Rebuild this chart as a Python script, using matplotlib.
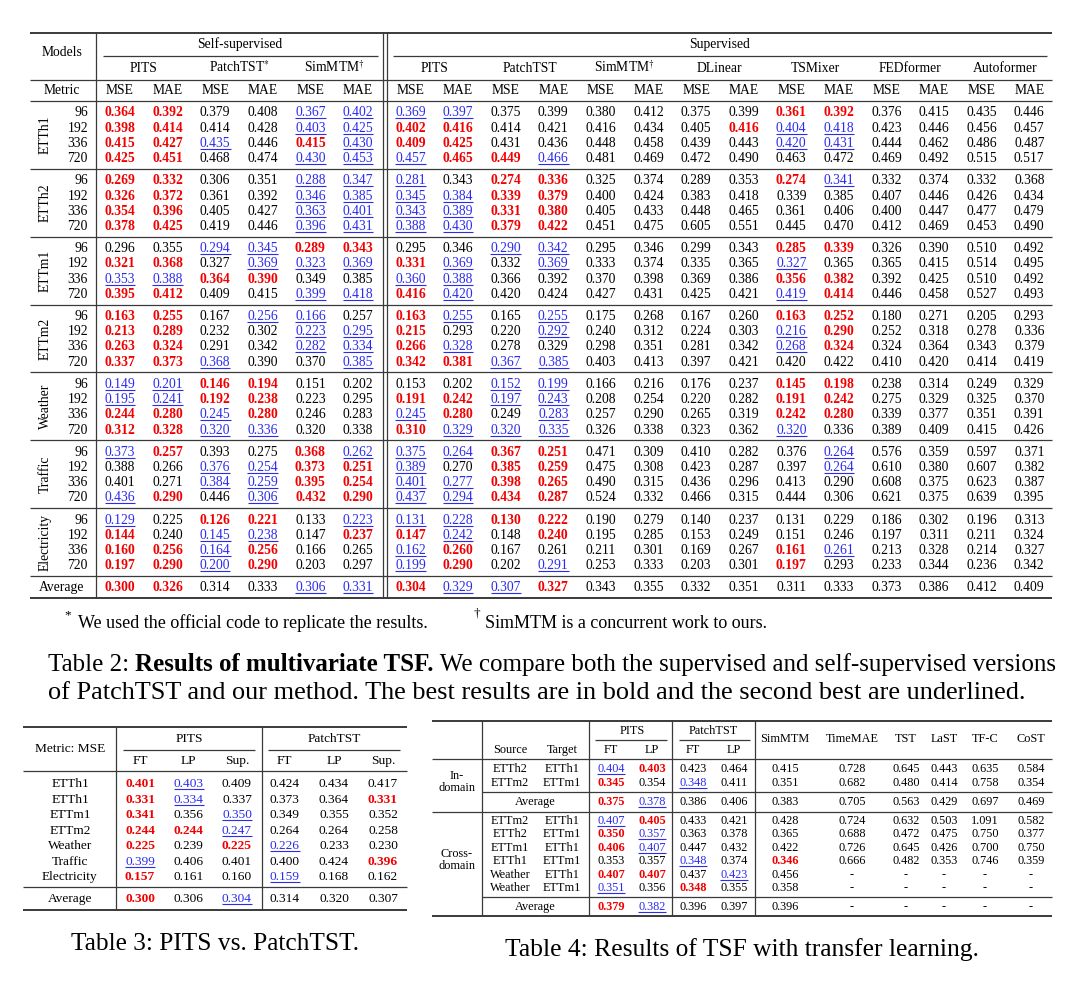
import numpy as np
import matplotlib
matplotlib.use("Agg")
import matplotlib.pyplot as plt

plt.rcParams['font.family'] = ['Liberation Serif', 'DejaVu Serif']
plt.rcParams['mathtext.fontset'] = 'stix'

RED = '#f20000'
BLUE = '#2b2bf0'
LINE = '#3a3a3a'

# ---------------- Table 2: multivariate TSF ----------------
datasets = ['ETTh1', 'ETTh2', 'ETTm1', 'ETTm2', 'Weather', 'Traffic', 'Electricity']
horizons = ['96', '192', '336', '720']
ss_models = ['PITS', 'PatchTST$^{*}$', 'SimMTM$^{\\dagger}$']
sup_models = ['PITS', 'PatchTST', 'SimMTM$^{\\dagger}$', 'DLinear', 'TSMixer', 'FEDformer', 'Autoformer']

# columns: self-sup (PITS, PatchTST, SimMTM) then supervised models, MSE/MAE each
etth1 = [[0.364, 0.392, 0.379, 0.408, 0.367, 0.402, 0.369, 0.397, 0.375, 0.399, 0.380, 0.412, 0.375, 0.399, 0.361, 0.392, 0.376, 0.415, 0.435, 0.446],
         [0.398, 0.414, 0.414, 0.428, 0.403, 0.425, 0.402, 0.416, 0.414, 0.421, 0.416, 0.434, 0.405, 0.416, 0.404, 0.418, 0.423, 0.446, 0.456, 0.457],
         [0.415, 0.427, 0.435, 0.446, 0.415, 0.430, 0.409, 0.425, 0.431, 0.436, 0.448, 0.458, 0.439, 0.443, 0.420, 0.431, 0.444, 0.462, 0.486, 0.487],
         [0.425, 0.451, 0.468, 0.474, 0.430, 0.453, 0.457, 0.465, 0.449, 0.466, 0.481, 0.469, 0.472, 0.490, 0.463, 0.472, 0.469, 0.492, 0.515, 0.517]]
etth1_marks = ["bb--uuuu------bb----", "bb--uubb-----buu----", "bbu-bubb------uu----", "bb--uuubbu----------"]

etth2 = [[0.269, 0.332, 0.306, 0.351, 0.288, 0.347, 0.281, 0.343, 0.274, 0.336, 0.325, 0.374, 0.289, 0.353, 0.274, 0.341, 0.332, 0.374, 0.332, 0.368],
         [0.326, 0.372, 0.361, 0.392, 0.346, 0.385, 0.345, 0.384, 0.339, 0.379, 0.400, 0.424, 0.383, 0.418, 0.339, 0.385, 0.407, 0.446, 0.426, 0.434],
         [0.354, 0.396, 0.405, 0.427, 0.363, 0.401, 0.343, 0.389, 0.331, 0.380, 0.405, 0.433, 0.448, 0.465, 0.361, 0.406, 0.400, 0.447, 0.477, 0.479],
         [0.378, 0.425, 0.419, 0.446, 0.396, 0.431, 0.388, 0.430, 0.379, 0.422, 0.451, 0.475, 0.605, 0.551, 0.445, 0.470, 0.412, 0.469, 0.453, 0.490]]
etth2_marks = ["bb--uuu-bb----bu----", "bb--uuuubb----------", "bb--uuuubb----------", "bb--uuuubb----------"]

ettm1 = [[0.296, 0.355, 0.294, 0.345, 0.289, 0.343, 0.295, 0.346, 0.290, 0.342, 0.295, 0.346, 0.299, 0.343, 0.285, 0.339, 0.326, 0.390, 0.510, 0.492],
         [0.321, 0.368, 0.327, 0.369, 0.323, 0.369, 0.331, 0.369, 0.332, 0.369, 0.333, 0.374, 0.335, 0.365, 0.327, 0.365, 0.365, 0.415, 0.514, 0.495],
         [0.353, 0.388, 0.364, 0.390, 0.349, 0.385, 0.360, 0.388, 0.366, 0.392, 0.370, 0.398, 0.369, 0.386, 0.356, 0.382, 0.392, 0.425, 0.510, 0.492],
         [0.395, 0.412, 0.409, 0.415, 0.399, 0.418, 0.416, 0.420, 0.420, 0.424, 0.427, 0.431, 0.425, 0.421, 0.419, 0.414, 0.446, 0.458, 0.527, 0.493]]
ettm1_marks = ["--uubb--uu----bb----", "bb-uuubu-u----u-----", "uubb--uu------bb----", "bb--uubu------ub----"]

ettm2 = [[0.163, 0.255, 0.167, 0.256, 0.166, 0.257, 0.163, 0.255, 0.165, 0.255, 0.175, 0.268, 0.167, 0.260, 0.163, 0.252, 0.180, 0.271, 0.205, 0.293],
         [0.213, 0.289, 0.232, 0.302, 0.223, 0.295, 0.215, 0.293, 0.220, 0.292, 0.240, 0.312, 0.224, 0.303, 0.216, 0.290, 0.252, 0.318, 0.278, 0.336],
         [0.263, 0.324, 0.291, 0.342, 0.282, 0.334, 0.266, 0.328, 0.278, 0.329, 0.298, 0.351, 0.281, 0.342, 0.268, 0.324, 0.324, 0.364, 0.343, 0.379],
         [0.337, 0.373, 0.368, 0.390, 0.370, 0.385, 0.342, 0.381, 0.367, 0.385, 0.403, 0.413, 0.397, 0.421, 0.420, 0.422, 0.410, 0.420, 0.414, 0.419]]
ettm2_marks = ["bb-uu-bu-u----bb----", "bb--uub--u----ub----", "bb--uubu------ub----", "bbu--ubbuu----------"]

weather = [[0.149, 0.201, 0.146, 0.194, 0.151, 0.202, 0.153, 0.202, 0.152, 0.199, 0.166, 0.216, 0.176, 0.237, 0.145, 0.198, 0.238, 0.314, 0.249, 0.329],
           [0.195, 0.241, 0.192, 0.238, 0.223, 0.295, 0.191, 0.242, 0.197, 0.243, 0.208, 0.254, 0.220, 0.282, 0.191, 0.242, 0.275, 0.329, 0.325, 0.370],
           [0.244, 0.280, 0.245, 0.280, 0.246, 0.283, 0.245, 0.280, 0.249, 0.283, 0.257, 0.290, 0.265, 0.319, 0.242, 0.280, 0.339, 0.377, 0.351, 0.391],
           [0.312, 0.328, 0.320, 0.336, 0.320, 0.338, 0.310, 0.329, 0.320, 0.335, 0.326, 0.338, 0.323, 0.362, 0.320, 0.336, 0.389, 0.409, 0.415, 0.426]]
weather_marks = ["uubb----uu----bb----", "uubb--bbuu----bb----", "bbub--ub-u----bb----", "bbuu--buuu----u-----"]

traffic = [[0.373, 0.257, 0.393, 0.275, 0.368, 0.262, 0.375, 0.264, 0.367, 0.251, 0.471, 0.309, 0.410, 0.282, 0.376, 0.264, 0.576, 0.359, 0.597, 0.371],
           [0.388, 0.266, 0.376, 0.254, 0.373, 0.251, 0.389, 0.270, 0.385, 0.259, 0.475, 0.308, 0.423, 0.287, 0.397, 0.264, 0.610, 0.380, 0.607, 0.382],
           [0.401, 0.271, 0.384, 0.259, 0.395, 0.254, 0.401, 0.277, 0.398, 0.265, 0.490, 0.315, 0.436, 0.296, 0.413, 0.290, 0.608, 0.375, 0.623, 0.387],
           [0.436, 0.290, 0.446, 0.306, 0.432, 0.290, 0.437, 0.294, 0.434, 0.287, 0.524, 0.332, 0.466, 0.315, 0.444, 0.306, 0.621, 0.375, 0.639, 0.395]]
traffic_marks = ["ub--buuubb-----u----", "--uubbu-bb-----u----", "--uubbuubb----------", "ub-ubbuubb----------"]

electricity = [[0.129, 0.225, 0.126, 0.221, 0.133, 0.223, 0.131, 0.228, 0.130, 0.222, 0.190, 0.279, 0.140, 0.237, 0.131, 0.229, 0.186, 0.302, 0.196, 0.313],
               [0.144, 0.240, 0.145, 0.238, 0.147, 0.237, 0.147, 0.242, 0.148, 0.240, 0.195, 0.285, 0.153, 0.249, 0.151, 0.246, 0.197, 0.311, 0.211, 0.324],
               [0.160, 0.256, 0.164, 0.256, 0.166, 0.265, 0.162, 0.260, 0.167, 0.261, 0.211, 0.301, 0.169, 0.267, 0.161, 0.261, 0.213, 0.328, 0.214, 0.327],
               [0.197, 0.290, 0.200, 0.290, 0.203, 0.297, 0.199, 0.290, 0.202, 0.291, 0.253, 0.333, 0.203, 0.301, 0.197, 0.293, 0.233, 0.344, 0.236, 0.342]]
electricity_marks = ["u-bb-uuubb----------", "b-uu-bbu-b----------", "bbub--ub------bu----", "bbub--ub-u----b-----"]

t2_average = [0.300, 0.326, 0.314, 0.333, 0.306, 0.331, 0.304, 0.329, 0.307, 0.327, 0.343, 0.355, 0.332, 0.351, 0.311, 0.333, 0.373, 0.386, 0.412, 0.409]
t2_average_marks = "bb--uubuub----------"

t2_blocks = [etth1, etth2, ettm1, ettm2, weather, traffic, electricity]
t2_block_marks = [etth1_marks, etth2_marks, ettm1_marks, ettm2_marks, weather_marks, traffic_marks, electricity_marks]

# ---------------- Table 3: PITS vs PatchTST ----------------
t3_rows = ['ETTh1', 'ETTh1', 'ETTm1', 'ETTm2', 'Weather', 'Traffic', 'Electricity']
t3_sub = ['FT', 'LP', 'Sup.']
t3_values = [[0.401, 0.403, 0.409, 0.424, 0.434, 0.417],
             [0.331, 0.334, 0.337, 0.373, 0.364, 0.331],
             [0.341, 0.356, 0.350, 0.349, 0.355, 0.352],
             [0.244, 0.244, 0.247, 0.264, 0.264, 0.258],
             [0.225, 0.239, 0.225, 0.226, 0.233, 0.230],
             [0.399, 0.406, 0.401, 0.400, 0.424, 0.396],
             [0.157, 0.161, 0.160, 0.159, 0.168, 0.162]]
t3_marks = ["bu----", "bu---b", "b-u---", "bbu---", "b-bu--", "u----b", "b--u--"]
t3_average = [0.300, 0.306, 0.304, 0.314, 0.320, 0.307]
t3_average_marks = "b-u---"

# ---------------- Table 4: transfer learning ----------------
t4_others = ['SimMTM', 'TimeMAE', 'TST', 'LaST', 'TF-C', 'CoST']
t4_in_pairs = [('ETTh2', 'ETTh1'), ('ETTm2', 'ETTm1')]
t4_in_values = [[0.404, 0.403, 0.423, 0.464, 0.415, 0.728, 0.645, 0.443, 0.635, 0.584],
                [0.345, 0.354, 0.348, 0.411, 0.351, 0.682, 0.480, 0.414, 0.758, 0.354]]
t4_in_marks = ["ub--------", "b-u-------"]
t4_in_average = [0.375, 0.378, 0.386, 0.406, 0.383, 0.705, 0.563, 0.429, 0.697, 0.469]
t4_in_average_marks = "bu--------"
t4_cross_pairs = [('ETTm2', 'ETTh1'), ('ETTh2', 'ETTm1'), ('ETTm1', 'ETTh1'),
                  ('ETTh1', 'ETTm1'), ('Weather', 'ETTh1'), ('Weather', 'ETTm1')]
t4_cross_values = [[0.407, 0.405, 0.433, 0.421, 0.428, 0.724, 0.632, 0.503, 1.091, 0.582],
                   [0.350, 0.357, 0.363, 0.378, 0.365, 0.688, 0.472, 0.475, 0.750, 0.377],
                   [0.406, 0.407, 0.447, 0.432, 0.422, 0.726, 0.645, 0.426, 0.700, 0.750],
                   [0.353, 0.357, 0.348, 0.374, 0.346, 0.666, 0.482, 0.353, 0.746, 0.359],
                   [0.407, 0.407, 0.437, 0.423, 0.456, None, None, None, None, None],
                   [0.351, 0.356, 0.348, 0.355, 0.358, None, None, None, None, None]]
t4_cross_marks = ["ub--------", "bu--------", "bu--------", "--u-b-----", "bb-u------", "u-b-------"]
t4_cross_average = [0.379, 0.382, 0.396, 0.397, 0.396, None, None, None, None, None]
t4_cross_average_marks = "bu--------"


fig = plt.figure(figsize=(10.8, 9.82), dpi=100)
ax = fig.add_axes([0, 0, 1, 1])
ax.set_xlim(0, 1080)
ax.set_ylim(982, 0)
ax.axis('off')

underlined = []


def hline(y, x0, x1, lw=0.9):
    ax.plot([x0, x1], [y, y], color=LINE, lw=lw, solid_capstyle='butt')


def vline(x, y0, y1, lw=0.9):
    ax.plot([x, x], [y0, y1], color=LINE, lw=lw, solid_capstyle='butt')


def label(x, y, s, size, **kw):
    # y is the visual centre of the text; convert to baseline
    ax.text(x, y + 0.33 * size * 100 / 72, s, ha=kw.pop('ha', 'center'),
            va='baseline', fontsize=size, **kw)


def cell(x, y, val, mark, size):
    s = '-' if val is None else f'{val:.3f}'
    color = RED if mark == 'b' else (BLUE if mark == 'u' else 'black')
    weight = 'bold' if mark == 'b' else 'normal'
    t = ax.text(x, y + 0.33 * size * 100 / 72, s, ha='center', va='baseline',
                fontsize=size, color=color, fontweight=weight)
    if mark == 'u':
        underlined.append(t)


# ---- Table 2 drawing
fs2 = 9.8
ss_x = [120 + 47.6 * i for i in range(6)]
sup_x = [410.5 + 47.6 * i for i in range(14)]
col_x = ss_x + sup_x
L2, R2 = 30, 1052
top2, blk0, blk_h = 33, 101, 67.86

hline(top2, L2, R2, lw=1.4)
label(62, 52, 'Models', fs2)
label(62, 90, 'Metric', fs2)
label(240, 44, 'Self-supervised', fs2)
label(720, 44, 'Supervised', fs2)
hline(56, 103, 378)
hline(56, 393, 1047)
for i, m in enumerate(ss_models):
    label((ss_x[2 * i] + ss_x[2 * i + 1]) / 2, 68, m, fs2)
for i, m in enumerate(sup_models):
    label((sup_x[2 * i] + sup_x[2 * i + 1]) / 2, 68, m, fs2)
hline(80, L2, R2)
for j, x in enumerate(col_x):
    label(x, 90, 'MSE' if j % 2 == 0 else 'MAE', fs2)

for d, name in enumerate(datasets):
    ytop = blk0 + blk_h * d
    hline(ytop, L2, R2)
    ax.text(45, ytop + blk_h / 2, name, rotation=90, ha='center', va='center', fontsize=fs2)
    for k, h in enumerate(horizons):
        y = ytop + 11 + 15.2 * k
        label(88, y, h, fs2, ha='right')
        for j, x in enumerate(col_x):
            cell(x, y, t2_blocks[d][k][j], t2_block_marks[d][k][j], fs2)
avg_line = blk0 + blk_h * 7
hline(avg_line, L2, R2)
label(62, 587, 'Average', fs2)
for j, x in enumerate(col_x):
    cell(x, 587, t2_average[j], t2_average_marks[j], fs2)
hline(598, L2, R2, lw=1.4)
vline(95.5, top2, 598)
vline(383, top2, 598)
vline(387, top2, 598)

# footnotes
fn = 13.0
ax.text(64, 618, '*', fontsize=9.5, va='baseline')
label(78, 622, 'We used the official code to replicate the results.', fn, ha='left')
ax.text(474, 616, '\u2020', fontsize=9.5, va='baseline')
label(485, 622, 'SimMTM is a concurrent work to ours.', fn, ha='left')

# caption 2
cap = 18.0
t = ax.text(48, 663 + 0.33 * cap * 100 / 72, 'Table 2: ', fontsize=cap, va='baseline')
t = ax.annotate('Results of multivariate TSF.', xy=(1, 0), xycoords=t, va='bottom',
                fontsize=cap, fontweight='bold')
ax.annotate(' We compare both the supervised and self-supervised versions', xy=(1, 0),
            xycoords=t, va='bottom', fontsize=cap)
label(48, 690, 'of PatchTST and our method. The best results are in bold and the second best are underlined.',
      18.9, ha='left')

# ---- Table 3 drawing
fs3 = 9.6
t3_x = [140, 188.5, 237, 284.5, 334, 383]
hline(727, 23, 407, lw=1.4)
label(70, 748, 'Metric: MSE', fs3)
label(189, 738, 'PITS', fs3)
label(334, 738, 'PatchTST', fs3)
hline(749.5, 123, 255)
hline(749.5, 268, 400)
for j, x in enumerate(t3_x):
    label(x, 760, t3_sub[j % 3], fs3)
hline(771, 23, 407)
for k, r in enumerate(t3_rows):
    y = 783 + 15.5 * k
    label(70, y, r, fs3)
    for j, x in enumerate(t3_x):
        cell(x, y, t3_values[k][j], t3_marks[k][j], fs3)
hline(887, 23, 407)
label(70, 898, 'Average', fs3)
for j, x in enumerate(t3_x):
    cell(x, 898, t3_average[j], t3_average_marks[j], fs3)
hline(909.5, 23, 407, lw=1.4)
vline(116, 727, 909.5)
vline(262, 727, 909.5)
label(215, 942, 'Table 3: PITS vs. PatchTST.', 18.3)

# ---- Table 4 drawing
fs4 = 8.8
t4_x = [611, 652, 693, 734, 785, 852, 906, 944, 985, 1031]
L4, R4 = 432, 1052
hline(721, L4, R4, lw=1.4)
label(632, 730, 'PITS', fs4)
label(713, 730, 'PatchTST', fs4)
hline(740, 595, 667)
hline(740, 679, 750)
label(510, 749, 'Source', fs4)
label(562, 749, 'Target', fs4)
for j in range(4):
    label(t4_x[j], 749, ['FT', 'LP'][j % 2], fs4)
for j, m in enumerate(t4_others):
    label(t4_x[4 + j], 738, m, fs4)
hline(759, L4, R4)
for k, (s, tg) in enumerate(t4_in_pairs):
    y = 768 + 13.5 * k
    label(510, y, s, fs4)
    label(562, y, tg, fs4)
    for j, x in enumerate(t4_x):
        cell(x, y, t4_in_values[k][j], t4_in_marks[k][j], fs4)
hline(792, 482, R4)
label(535, 801, 'Average', fs4)
for j, x in enumerate(t4_x):
    cell(x, 801, t4_in_average[j], t4_in_average_marks[j], fs4)
hline(812, L4, R4)
for k, (s, tg) in enumerate(t4_cross_pairs):
    y = 820 + 13.4 * k
    label(510, y, s, fs4)
    label(562, y, tg, fs4)
    for j, x in enumerate(t4_x):
        cell(x, y, t4_cross_values[k][j], t4_cross_marks[k][j], fs4)
hline(897, 482, R4)
label(535, 906, 'Average', fs4)
for j, x in enumerate(t4_x):
    cell(x, 906, t4_cross_average[j], t4_cross_average_marks[j], fs4)
hline(916, L4, R4, lw=1.4)
label(457, 775, 'In-', fs4)
label(457, 787, 'domain', fs4)
label(457, 853, 'Cross-', fs4)
label(457, 865, 'domain', fs4)
for x in [482, 589, 672, 755]:
    vline(x, 721, 916)
label(742, 948, 'Table 4: Results of TSF with transfer learning.', 18.4)

# underlines for second-best values
fig.canvas.draw()
renderer = fig.canvas.get_renderer()
inv = ax.transData.inverted()
for t in underlined:
    bb = t.get_window_extent(renderer)
    (x0, _), (x1, _) = inv.transform([[bb.x0, bb.y0], [bb.x1, bb.y0]])
    y = t.get_position()[1] + 2.0
    ax.plot([x0, x1], [y, y], color=BLUE, lw=0.8, solid_capstyle='butt')

fig.savefig('out.png', dpi=100, facecolor='white')
